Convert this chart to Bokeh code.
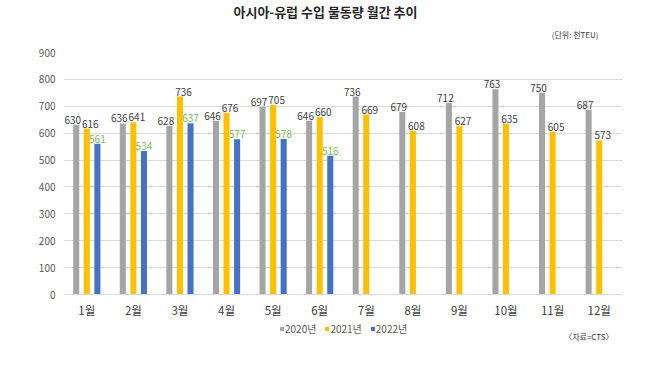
from bokeh.plotting import figure
from bokeh.layouts import column
from bokeh.models import (ColumnDataSource, FactorRange, Range1d, Legend, LegendItem,
                          FixedTicker, Label)
from bokeh.transform import dodge
from bokeh.core.properties import value
from bokeh.embed import file_html
from bokeh.resources import INLINE

months = ["1월", "2월", "3월", "4월", "5월", "6월", "7월", "8월", "9월", "10월", "11월", "12월"]
v2020 = [630, 636, 628, 646, 697, 646, 736, 679, 712, 763, 750, 687]
v2021 = [616, 641, 736, 676, 705, 660, 669, 608, 627, 635, 605, 573]
v2022 = [561, 534, 637, 577, 578, 516]
y_ticks = [0, 100, 200, 300, 400, 500, 600, 700, 800, 900]
series_names = ["2020년", "2021년", "2022년"]
title_text = "아시아-유럽 수입 물동량 월간 추이"
unit_text = "(단위: 천TEU)"
source_text = "〈자료=CTS〉"

FONT = "Noto Sans CJK KR"
C_GRAY = "#A5A5A5"
C_YEL = "#FFC000"
C_BLUE = "#4472C4"
C_TXT = "#404040"
C_GREEN = "#7DBA5C"
colors = [C_GRAY, C_YEL, C_BLUE]


def strip(h):
    f = figure(width=650, height=h, output_backend="svg", toolbar_location=None,
               x_range=Range1d(0, 1), y_range=Range1d(0, 1),
               x_axis_type=None, y_axis_type=None, min_border=0)
    f.outline_line_color = None
    f.xgrid.grid_line_color = None
    f.ygrid.grid_line_color = None
    return f


# top strip: titles
t = strip(44)
t.add_layout(Label(x=262, y=33, x_units="screen", y_units="screen", text=title_text,
                   text_font=FONT, text_font_size="13px", text_font_style="bold",
                   text_align="center", text_baseline="middle", text_color="#262626"))
t.add_layout(Label(x=535, y=10, x_units="screen", y_units="screen", text=unit_text,
                   text_font=FONT, text_font_size="8px",
                   text_align="right", text_baseline="middle", text_color=C_TXT))

# main chart
p = figure(width=650, height=276, output_backend="svg", toolbar_location=None,
           x_range=FactorRange(*months), y_range=Range1d(0, 900),
           min_border_left=63, min_border_right=28, min_border_top=8, min_border_bottom=26)
p.outline_line_color = None
p.background_fill_color = "white"

s1 = ColumnDataSource(dict(m=months, v=v2020, t=[str(v) for v in v2020]))
s2 = ColumnDataSource(dict(m=months, v=v2021, t=[str(v) for v in v2021]))
s3 = ColumnDataSource(dict(m=months[:len(v2022)], v=v2022, t=[str(v) for v in v2022]))

off = 0.227
bw = 0.13
p.vbar(x=dodge("m", -off, range=p.x_range), top="v", width=bw, source=s1,
       fill_color=C_GRAY, line_color=None)
p.vbar(x=dodge("m", 0, range=p.x_range), top="v", width=bw, source=s2,
       fill_color=C_YEL, line_color=None)
p.vbar(x=dodge("m", off, range=p.x_range), top="v", width=bw, source=s3,
       fill_color=C_BLUE, line_color=None)

lab_kw = dict(text="t", text_font=value(FONT), text_font_size="10px",
              text_align="center", text_baseline="bottom", y_offset=-1)
p.text(x=dodge("m", -off - 0.075, range=p.x_range), y="v", source=s1, text_color=C_TXT, **lab_kw)
p.text(x=dodge("m", 0.075, range=p.x_range), y="v", source=s2, text_color=C_TXT, **lab_kw)
p.text(x=dodge("m", off, range=p.x_range), y="v", source=s3, text_color=C_GREEN, **lab_kw)

p.yaxis.ticker = FixedTicker(ticks=y_ticks)
p.yaxis.axis_line_color = None
p.yaxis.major_tick_line_color = None
p.yaxis.minor_tick_line_color = None
p.yaxis.major_tick_out = 0
p.yaxis.major_tick_in = 0
p.yaxis.major_label_text_font = FONT
p.yaxis.major_label_text_font_size = "10px"
p.yaxis.major_label_text_color = "#595959"
p.yaxis.major_label_standoff = 8

p.xaxis.axis_line_color = "#D9D9D9"
p.xaxis.major_tick_line_color = None
p.xaxis.minor_tick_line_color = None
p.xaxis.major_tick_out = 0
p.xaxis.major_tick_in = 0
p.xaxis.major_label_text_font = FONT
p.xaxis.major_label_text_font_size = "11.5px"
p.xaxis.major_label_text_color = C_TXT
p.xaxis.major_label_standoff = 7

p.xgrid.grid_line_color = None
p.ygrid.grid_line_color = "#D9D9D9"
p.ygrid.grid_line_width = 1

# bottom strip: legend + source note
q = strip(45)
legend_src = ColumnDataSource(dict(x=[0, 0, 0], top=[0, 0, 0]))
rs = [q.vbar(x="x", top="top", bottom=0, width=0, source=legend_src, fill_color=c,
             line_color=None) for c in colors]
legend = Legend(items=[LegendItem(label=n, renderers=[r]) for n, r in zip(series_names, rs)],
                orientation="horizontal", location=(216, 29),
                glyph_width=5, glyph_height=5, label_standoff=1, spacing=8,
                padding=0, margin=0, border_line_color=None, background_fill_alpha=0,
                label_text_font=FONT, label_text_font_size="10px", label_text_color="#595959",
                label_height=10)
q.add_layout(legend)
q.add_layout(Label(x=550, y=29, x_units="screen", y_units="screen", text=source_text,
                   text_font=FONT, text_font_size="8px",
                   text_align="right", text_baseline="middle", text_color=C_TXT))

open("out.html", "w").write(file_html(column(t, p, q, spacing=0), INLINE))
